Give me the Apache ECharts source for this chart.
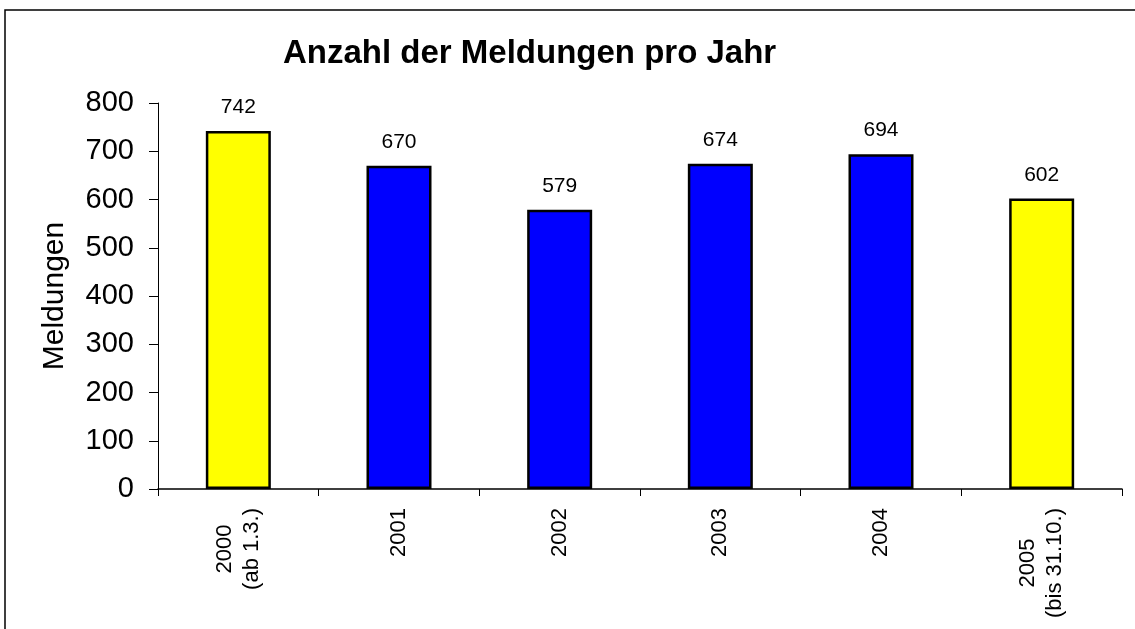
<!DOCTYPE html>
<html>
<head>
<meta charset="utf-8">
<script src="https://cdn.jsdelivr.net/npm/echarts@6/dist/echarts.min.js"></script>
<style>
  html, body { margin: 0; padding: 0; background: #fff; }
  #chart { width: 1135px; height: 629px; }
</style>
</head>
<body>
<div id="chart"></div>
<script>
// Jahre (Teiljahre 2000 und 2005 gelb)
const years = ['2000\n(ab 1.3.)', '2001', '2002', '2003', '2004', '2005\n(bis 31.10.)']
const meldungen = [742, 670, 579, 674, 694, 602]
const partialYear = [true, false, false, false, false, true]
const yTicks = [0, 100, 200, 300, 400, 500, 600, 700, 800]

const FONT = 'Liberation Sans, Arial, sans-serif'

const chart = echarts.init(document.getElementById('chart'))

chart.setOption({
  animation: false,
  backgroundColor: '#fff',
  title: {
    text: 'Anzahl der Meldungen pro Jahr',
    left: 283,
    top: 37,
    padding: 0,
    textStyle: { fontFamily: FONT, fontSize: 33, fontWeight: 'bold', color: '#000' }
  },
  graphic: [{
    type: 'rect',
    shape: { x: 5, y: 10, width: 1200, height: 700 },
    style: { fill: 'none', stroke: '#000', lineWidth: 1.5 },
    silent: true
  }],
  grid: { left: 158, right: 13, top: 103, height: 386 },
  xAxis: {
    type: 'category',
    data: years,
    axisLine: { lineStyle: { color: '#000', width: 1.5 } },
    axisTick: { show: true, length: 7, alignWithLabel: false, lineStyle: { color: '#000' } },
    axisLabel: {
      rotate: 90,
      interval: 0,
      margin: 19,
      color: '#000',
      fontFamily: FONT,
      fontSize: 22,
      lineHeight: 27,
      formatter: function (v) {
        if (v.indexOf('\n') < 0) return v
        return v.split('\n').map(function (s) { return '{c|' + s + '}' }).join('\n')
      },
      rich: {
        c: { align: 'center', fontFamily: FONT, fontSize: 22, lineHeight: 27, color: '#000' }
      }
    }
  },
  yAxis: {
    type: 'value',
    min: yTicks[0],
    max: yTicks[yTicks.length - 1],
    interval: 100,
    name: 'Meldungen',
    nameLocation: 'middle',
    nameGap: 88,
    nameTextStyle: { fontFamily: FONT, fontSize: 30, color: '#000' },
    axisLine: { show: true, lineStyle: { color: '#000', width: 1 } },
    axisTick: { show: true, length: 9, lineStyle: { color: '#000' } },
    splitLine: { show: false },
    axisLabel: { margin: 24, color: '#000', fontFamily: FONT, fontSize: 29 }
  },
  series: [{
    type: 'bar',
    barWidth: 65,
    data: meldungen.map(function (v, i) {
      return {
        value: v,
        itemStyle: { color: partialYear[i] ? '#ffff00' : '#0000ff' }
      }
    }),
    itemStyle: { borderColor: '#000', borderWidth: 2.5 },
    label: {
      show: true,
      position: 'top',
      distance: 13,
      color: '#000',
      fontFamily: FONT,
      fontSize: 21
    }
  }]
})
</script>
</body>
</html>
